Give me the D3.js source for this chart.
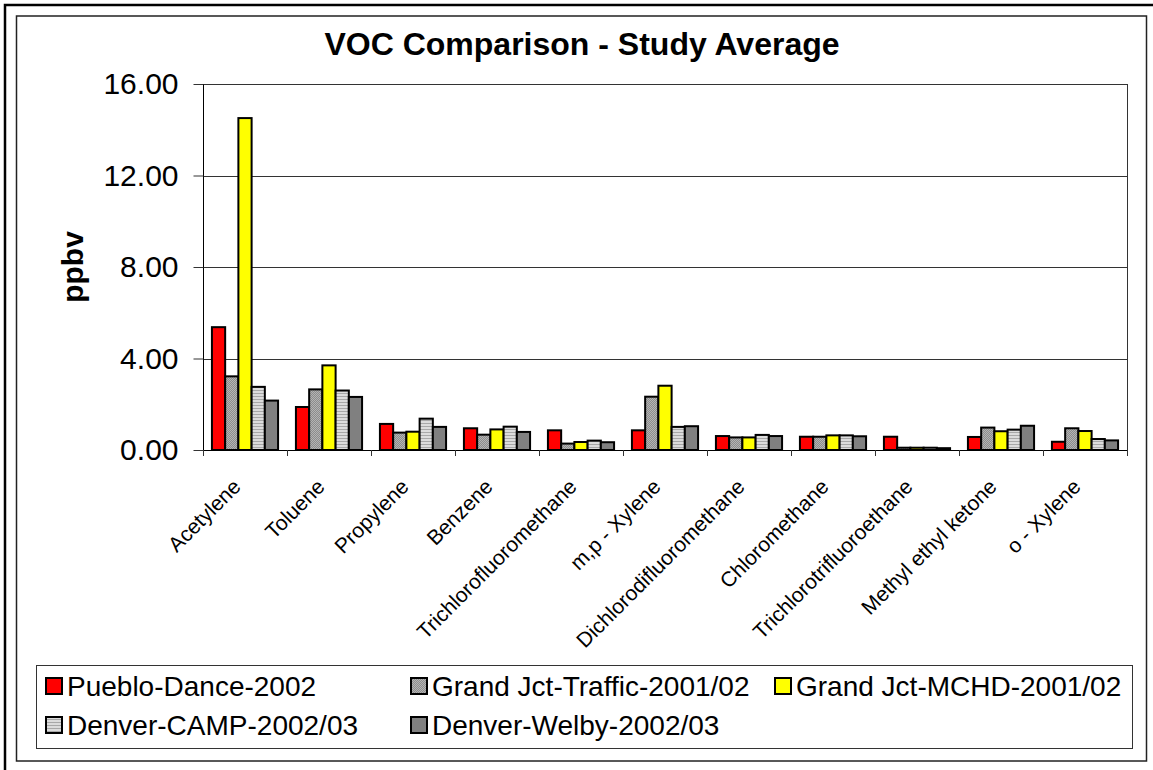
<!DOCTYPE html>
<html lang="en">
<head>
    <meta charset="UTF-8">
    <title>VOC Comparison - Study Average</title>
    <script src="https://d3js.org/d3.v7.min.js"></script>
    <style>
        body {
            margin: 0;
            padding: 0;
            background-color: #ffffff;
            overflow: hidden;
        }

        svg {
            display: block;
            font-family: "Liberation Sans", Arial, sans-serif;
        }
    </style>
</head>
<body>
    <script>
        // Chart data
        const categories = ["Acetylene", "Toluene", "Propylene", "Benzene", "Trichlorofluoromethane",
            "m,p - Xylene", "Dichlorodifluoromethane", "Chloromethane", "Trichlorotrifluoroethane",
            "Methyl ethyl ketone", "o - Xylene"];
        const seriesNames = ["Pueblo-Dance-2002", "Grand Jct-Traffic-2001/02", "Grand Jct-MCHD-2001/02",
            "Denver-CAMP-2002/03", "Denver-Welby-2002/03"];
        const puebloDance = [5.37, 1.88, 1.14, 0.95, 0.86, 0.86, 0.61, 0.58, 0.58, 0.57, 0.36];
        const gjTraffic = [3.22, 2.65, 0.76, 0.67, 0.28, 2.33, 0.55, 0.58, 0.10, 0.98, 0.95];
        const gjMCHD = [14.51, 3.70, 0.80, 0.90, 0.35, 2.81, 0.55, 0.64, 0.10, 0.82, 0.83];
        const denverCAMP = [2.76, 2.60, 1.37, 1.02, 0.41, 1.01, 0.66, 0.64, 0.10, 0.89, 0.48];
        const denverWelby = [2.16, 2.32, 1.01, 0.79, 0.34, 1.04, 0.61, 0.60, 0.08, 1.06, 0.42];
        const yTicks = [0, 4, 8, 12, 16];

        const seriesValues = [puebloDance, gjTraffic, gjMCHD, denverCAMP, denverWelby];
        const fills = ["#ff0000", "url(#dots)", "#ffff00", "url(#stripes)", "#808080"];

        const width = 1153, height = 770;
        const plot = { left: 203, right: 1127, top: 84, bottom: 450 };

        const svg = d3.select("body").append("svg")
            .attr("width", width)
            .attr("height", height);

        // Fill patterns for the grey series
        const defs = svg.append("defs");
        const dots = defs.append("pattern")
            .attr("id", "dots")
            .attr("patternUnits", "userSpaceOnUse")
            .attr("width", 2).attr("height", 2);
        dots.append("rect").attr("width", 2).attr("height", 2).attr("fill", "#b4b4b4");
        dots.append("rect").attr("width", 1).attr("height", 1).attr("fill", "#8c8c8c");
        dots.append("rect").attr("x", 1).attr("y", 1).attr("width", 1).attr("height", 1).attr("fill", "#8c8c8c");

        const stripes = defs.append("pattern")
            .attr("id", "stripes")
            .attr("patternUnits", "userSpaceOnUse")
            .attr("width", 3).attr("height", 3);
        stripes.append("rect").attr("width", 3).attr("height", 3).attr("fill", "#dcdcdc");
        stripes.append("rect").attr("width", 3).attr("height", 1).attr("fill", "#a8a8a8");

        // Frames
        svg.append("path")
            .attr("d", `M5,${height} V5 H${width}`)
            .attr("fill", "none")
            .attr("stroke", "#000")
            .attr("stroke-width", 2.5);
        svg.append("rect")
            .attr("x", 16.5).attr("y", 16)
            .attr("width", 1130).attr("height", 745)
            .attr("fill", "none")
            .attr("stroke", "#222")
            .attr("stroke-width", 1.5);

        // Scales
        const x0 = d3.scaleBand()
            .domain(categories)
            .range([plot.left, plot.right]);
        const gapRatio = 1.35;
        const gap = x0.bandwidth() * gapRatio / (seriesNames.length + gapRatio);
        const x1 = d3.scaleBand()
            .domain(seriesNames)
            .range([gap / 2, x0.bandwidth() - gap / 2]);
        const y = d3.scaleLinear()
            .domain([0, 16])
            .range([plot.bottom, plot.top]);

        // Gridlines
        svg.append("g")
            .selectAll("line")
            .data(yTicks.filter(d => d > 0))
            .enter().append("line")
            .attr("x1", plot.left).attr("x2", plot.right)
            .attr("y1", d => Math.round(y(d)) + 0.5)
            .attr("y2", d => Math.round(y(d)) + 0.5)
            .attr("stroke", "#333")
            .attr("stroke-width", 1);

        // Right border of plot area
        svg.append("line")
            .attr("x1", plot.right + 0.5).attr("x2", plot.right + 0.5)
            .attr("y1", plot.top).attr("y2", plot.bottom)
            .attr("stroke", "#333");

        // Bars
        const groups = svg.append("g")
            .selectAll("g")
            .data(categories)
            .enter().append("g")
            .attr("transform", d => `translate(${x0(d)},0)`);

        groups.selectAll("rect")
            .data((d, i) => seriesNames.map((s, j) => ({ s: s, j: j, v: seriesValues[j][i] })))
            .enter().append("rect")
            .attr("x", d => x1(d.s))
            .attr("width", x1.bandwidth())
            .attr("y", d => y(d.v))
            .attr("height", d => y(0) - y(d.v))
            .attr("fill", d => fills[d.j])
            .attr("stroke", "#000")
            .attr("stroke-width", 2);

        // Y axis
        const yAxis = svg.append("g")
            .attr("transform", `translate(${plot.left + 0.5},0)`)
            .call(d3.axisLeft(y).tickValues(yTicks).tickFormat(d3.format(".2f")).tickSize(10).tickPadding(15));
        yAxis.select(".domain").attr("stroke", "#000").attr("d", `M0,${plot.bottom}V${plot.top}`);
        yAxis.selectAll(".tick line").attr("stroke", "#333");
        yAxis.selectAll("text")
            .attr("font-family", "Liberation Sans, Arial, sans-serif")
            .attr("font-size", 30)
            .attr("fill", "#000");

        // X axis line and boundary ticks
        svg.append("line")
            .attr("x1", plot.left).attr("x2", plot.right)
            .attr("y1", plot.bottom + 0.5).attr("y2", plot.bottom + 0.5)
            .attr("stroke", "#000");
        const boundaries = categories.map(c => x0(c)).concat([plot.right]);
        svg.append("g")
            .selectAll("line")
            .data(boundaries)
            .enter().append("line")
            .attr("x1", d => Math.round(d) + 0.5).attr("x2", d => Math.round(d) + 0.5)
            .attr("y1", plot.bottom).attr("y2", plot.bottom + 6)
            .attr("stroke", "#333");

        // Category labels
        svg.append("g")
            .selectAll("text")
            .data(categories)
            .enter().append("text")
            .attr("transform", d => `translate(${x0(d) + x0.bandwidth() / 2 - 3},488) rotate(-45)`)
            .attr("text-anchor", "end")
            .attr("font-size", 21)
            .attr("fill", "#000")
            .text(d => d);

        // Title
        svg.append("text")
            .attr("x", 582)
            .attr("y", 55)
            .attr("text-anchor", "middle")
            .attr("font-size", 32)
            .attr("font-weight", "bold")
            .text("VOC Comparison - Study Average");

        // Y axis title
        svg.append("text")
            .attr("transform", `translate(83,${(plot.top + plot.bottom) / 2}) rotate(-90)`)
            .attr("text-anchor", "middle")
            .attr("font-size", 30)
            .attr("font-weight", "bold")
            .text("ppbv");

        // Legend
        svg.append("rect")
            .attr("x", 36.5).attr("y", 665.5)
            .attr("width", 1096).attr("height", 83)
            .attr("fill", "#fff")
            .attr("stroke", "#333")
            .attr("stroke-width", 1);

        const legendCols = [46, 411, 775];
        const legendRows = [686, 725];
        const legend = svg.append("g")
            .selectAll("g")
            .data(seriesNames)
            .enter().append("g")
            .attr("transform", (d, i) => `translate(${legendCols[i % 3]},${legendRows[Math.floor(i / 3)]})`);

        legend.append("rect")
            .attr("x", 0).attr("y", -8)
            .attr("width", 16).attr("height", 16)
            .attr("fill", (d, i) => fills[i])
            .attr("stroke", "#000")
            .attr("stroke-width", 2);

        legend.append("text")
            .attr("x", 21)
            .attr("y", 10)
            .attr("font-size", 28)
            .attr("fill", "#000")
            .text(d => d);
    </script>
</body>
</html>
